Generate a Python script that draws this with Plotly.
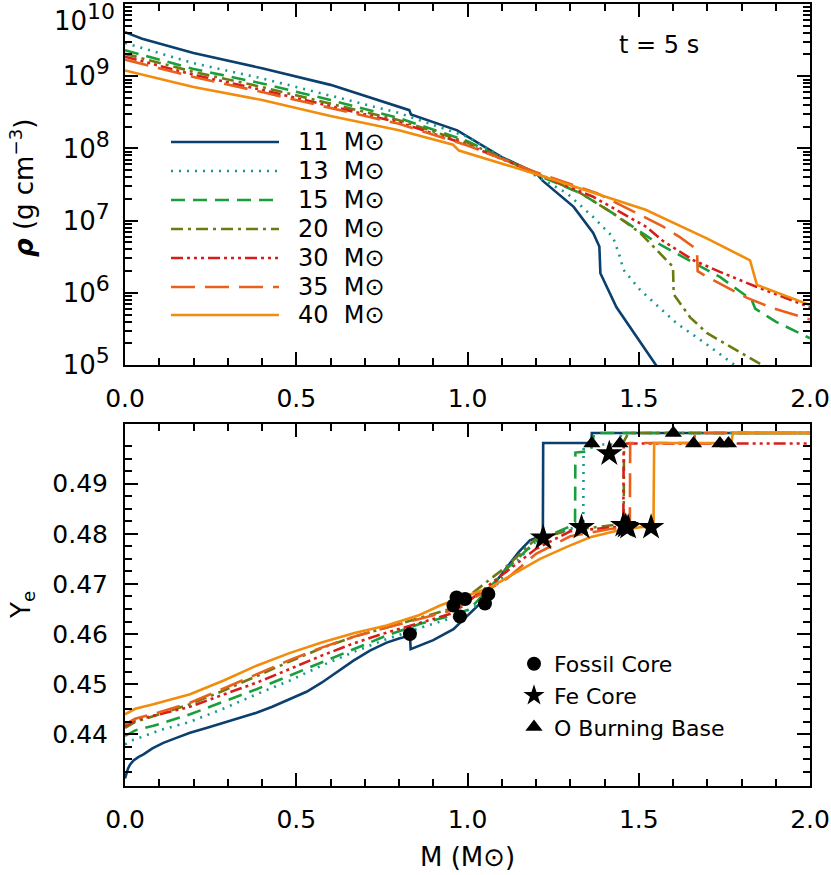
import plotly.graph_objects as go
from plotly.subplots import make_subplots

# ---- data ----
masses = ["11", "13", "15", "20", "30", "35", "40"]
colors = ["#0b3f6e", "#14998a", "#1a9e3c", "#6b7b12", "#d81e1a", "#e8601a", "#f28c0c"]
dashes = ["solid", "2px,6px", "14px,8px", "12px,5px,3px,5px",
          "12px,4px,3px,4px,3px,4px,3px,4px", "24px,10px", "solid"]

# density profiles, log10(rho) vs enclosed mass
m_rho_11 = [0, 0.05, 0.2, 0.4, 0.6, 0.8, 0.83, 0.835, 0.97, 1.1, 1.2, 1.22, 1.31, 1.367, 1.385, 1.388, 1.435, 1.55, 1.6]
lr_11 = [9.61, 9.52, 9.32, 9.11, 8.88, 8.57, 8.53, 8.47, 8.25, 7.88, 7.66, 7.55, 7.19, 6.83, 6.64, 6.27, 5.80, 5.0, 4.7]
m_rho_13 = [0, 0.2, 0.4, 0.6, 0.8, 1.0, 1.1, 1.2, 1.29, 1.367, 1.425, 1.445, 1.455, 1.504, 1.61, 1.7, 1.78, 1.85]
lr_13 = [9.46, 9.18, 8.97, 8.73, 8.49, 8.16, 7.88, 7.62, 7.38, 7.05, 6.77, 6.5, 6.32, 6.04, 5.58, 5.28, 5.0, 4.8]
m_rho_15 = [0, 0.2, 0.4, 0.6, 0.8, 1.0, 1.2, 1.33, 1.425, 1.52, 1.55, 1.6, 1.737, 1.83, 1.84, 1.9, 2.0]
lr_15 = [9.36, 9.1, 8.9, 8.67, 8.42, 8.1, 7.64, 7.38, 7.1, 6.8, 6.7, 6.57, 6.22, 5.9, 5.78, 5.6, 5.37]
m_rho_20 = [0, 0.2, 0.4, 0.6, 0.8, 1.0, 1.2, 1.33, 1.425, 1.504, 1.553, 1.59, 1.6, 1.602, 1.65, 1.7, 1.796, 1.86, 2.0]
lr_20 = [9.31, 9.06, 8.85, 8.62, 8.39, 8.08, 7.66, 7.38, 7.1, 6.83, 6.59, 6.41, 6.36, 5.98, 5.66, 5.44, 5.17, 5.0, 4.75]
m_rho_30 = [0, 0.2, 0.4, 0.6, 0.8, 1.0, 1.2, 1.367, 1.523, 1.57, 1.66, 1.737, 1.845, 2.0]
lr_30 = [9.27, 9.02, 8.81, 8.58, 8.36, 8.05, 7.66, 7.33, 6.91, 6.72, 6.45, 6.29, 6.08, 5.8]
m_rho_35 = [0, 0.2, 0.4, 0.6, 0.8, 1.0, 1.2, 1.378, 1.474, 1.57, 1.62, 1.67, 1.672, 1.7, 1.816, 1.89, 2.0]
lr_35 = [9.23, 8.99, 8.78, 8.56, 8.34, 8.04, 7.67, 7.38, 7.15, 6.92, 6.77, 6.6, 6.3, 6.22, 5.93, 5.79, 5.63]
m_rho_40 = [0, 0.2, 0.4, 0.6, 0.8, 0.958, 0.975, 1.19, 1.52, 1.7, 1.825, 1.845, 2.0]
lr_40 = [9.08, 8.85, 8.67, 8.45, 8.25, 8.05, 7.97, 7.66, 7.15, 6.75, 6.45, 6.11, 5.83]

# electron fraction profiles
m_ye_11 = [0, 0.004, 0.009, 0.015, 0.025, 0.04, 0.054, 0.08, 0.112, 0.15, 0.19, 0.24, 0.287, 0.335, 0.384, 0.43, 0.482, 0.53, 0.574, 0.62, 0.667, 0.715, 0.764, 0.8, 0.832, 0.834, 0.9, 0.959, 1.017, 1.046, 1.08, 1.114, 1.15, 1.182, 1.22, 1.221, 1.362, 1.363, 2.0]
ye_11 = [0.4312, 0.4323, 0.4332, 0.434, 0.4348, 0.4355, 0.436, 0.4372, 0.4383, 0.4393, 0.4403, 0.4413, 0.4423, 0.4433, 0.4443, 0.4455, 0.447, 0.4485, 0.4503, 0.4525, 0.4547, 0.4567, 0.4583, 0.4591, 0.4597, 0.457, 0.4588, 0.461, 0.4647, 0.4667, 0.4702, 0.4733, 0.4764, 0.4787, 0.4797, 0.4981, 0.4981, 0.5001, 0.5001]
m_ye_13 = [0, 0.02, 0.05, 0.1, 0.19, 0.29, 0.384, 0.48, 0.574, 0.67, 0.764, 0.86, 0.959, 1.05, 1.114, 1.2, 1.3, 1.338, 1.339, 1.44, 1.45, 2.0]
ye_13 = [0.438, 0.4388, 0.4395, 0.4408, 0.4425, 0.4452, 0.448, 0.4507, 0.4537, 0.4565, 0.459, 0.4612, 0.4633, 0.4665, 0.4725, 0.4785, 0.481, 0.4818, 0.4978, 0.4978, 0.5001, 0.5001]
m_ye_15 = [0, 0.03, 0.083, 0.19, 0.287, 0.384, 0.48, 0.574, 0.67, 0.764, 0.86, 0.959, 1.007, 1.114, 1.2, 1.3, 1.314, 1.315, 1.36, 1.37, 2.0]
ye_15 = [0.4397, 0.4408, 0.4417, 0.444, 0.4465, 0.449, 0.4517, 0.4543, 0.4571, 0.4597, 0.462, 0.4638, 0.465, 0.473, 0.4785, 0.4815, 0.4823, 0.4962, 0.4965, 0.5001, 0.5001]
m_ye_20 = [0, 0.03, 0.1, 0.19, 0.29, 0.384, 0.48, 0.574, 0.67, 0.764, 0.86, 0.959, 1.114, 1.2, 1.3, 1.445, 1.456, 1.457, 1.47, 2.0]
ye_20 = [0.4413, 0.4425, 0.4440, 0.446, 0.4488, 0.4517, 0.4545, 0.4572, 0.4595, 0.4613, 0.4632, 0.4652, 0.4735, 0.479, 0.4807, 0.482, 0.482, 0.4985, 0.5001, 0.5001]
m_ye_30 = [0, 0.03, 0.1, 0.19, 0.29, 0.384, 0.48, 0.574, 0.67, 0.764, 0.86, 0.959, 1.114, 1.2, 1.3, 1.426, 1.455, 1.456, 2.0]
ye_30 = [0.4417, 0.4428, 0.444, 0.4455, 0.448, 0.4503, 0.453, 0.4557, 0.4582, 0.4603, 0.4622, 0.4642, 0.4725, 0.477, 0.4805, 0.4813, 0.4815, 0.498, 0.498]
m_ye_35 = [0, 0.03, 0.1, 0.19, 0.29, 0.384, 0.48, 0.574, 0.67, 0.764, 0.86, 0.959, 1.114, 1.2, 1.3, 1.42, 1.474, 1.475, 1.66, 1.665, 2.0]
ye_35 = [0.442, 0.4431, 0.4444, 0.4463, 0.4492, 0.452, 0.4548, 0.4573, 0.4595, 0.4613, 0.463, 0.4648, 0.471, 0.476, 0.4795, 0.481, 0.4812, 0.4981, 0.4981, 0.5001, 0.5001]
m_ye_40 = [0, 0.03, 0.083, 0.19, 0.29, 0.384, 0.48, 0.574, 0.67, 0.764, 0.86, 0.92, 0.959, 1.066, 1.14, 1.212, 1.29, 1.358, 1.43, 1.504, 1.543, 1.545, 1.77, 1.775, 2.0]
ye_40 = [0.444, 0.4451, 0.446, 0.448, 0.4508, 0.4537, 0.4562, 0.4583, 0.4602, 0.4617, 0.4638, 0.4657, 0.4667, 0.4693, 0.4722, 0.475, 0.4774, 0.4793, 0.4805, 0.4813, 0.4815, 0.4981, 0.4981, 0.5001, 0.5001]

# special mass coordinates
fossil_m = [0.832, 0.959, 0.968, 0.993, 0.978, 1.061, 1.051]
fossil_ye = [0.4600, 0.4657, 0.4673, 0.4670, 0.4635, 0.4680, 0.4661]
fe_m = [1.221, 1.333, 1.414, 1.455, 1.462, 1.469, 1.536]
fe_ye = [0.4792, 0.4813, 0.4960, 0.4817, 0.4815, 0.4813, 0.4813]
ob_m = [1.363, 1.445, 1.601, 1.66, 1.737, 1.762]
ob_ye = [0.4980, 0.4980, 0.5001, 0.4980, 0.4980, 0.4980]

# axis ticks
rho_decades = [5, 6, 7, 8, 9, 10]
major_ye = [0.44, 0.45, 0.46, 0.47, 0.48, 0.49]

rho_m = [m_rho_11, m_rho_13, m_rho_15, m_rho_20, m_rho_30, m_rho_35, m_rho_40]
rho_lg = [lr_11, lr_13, lr_15, lr_20, lr_30, lr_35, lr_40]
ye_m = [m_ye_11, m_ye_13, m_ye_15, m_ye_20, m_ye_30, m_ye_35, m_ye_40]
ye_v = [ye_11, ye_13, ye_15, ye_20, ye_30, ye_35, ye_40]

W, H = 831, 875
L, R, T, B = 125, 21, 4, 89
FONT = "DejaVu Sans"

def px(x):
    return (x - L) / (W - L - R)

def py(y):
    return (H - B - y) / (H - T - B)

def decade(d):
    return f"10<sup><span style='font-size:22px'>{d}</span></sup>"

fig = make_subplots(rows=2, cols=1, vertical_spacing=0.0)

for i in range(len(masses)):
    fig.add_trace(go.Scatter(
        x=rho_m[i], y=[10 ** v for v in rho_lg[i]], mode="lines",
        line=dict(color=colors[i], width=2.6, dash=dashes[i]),
        showlegend=False), row=1, col=1)
    fig.add_trace(go.Scatter(
        x=ye_m[i], y=ye_v[i], mode="lines",
        line=dict(color=colors[i], width=2.6, dash=dashes[i]),
        showlegend=False), row=2, col=1)

fig.add_trace(go.Scatter(x=fossil_m, y=fossil_ye, mode="markers", name="Fossil Core",
                         marker=dict(symbol="circle", size=14, color="black")), row=2, col=1)
fig.add_trace(go.Scatter(x=fe_m, y=fe_ye, mode="markers", name="Fe Core",
                         marker=dict(symbol="star", size=20, color="black")), row=2, col=1)
fig.add_trace(go.Scatter(x=ob_m, y=ob_ye, mode="markers", name="O Burning Base",
                         marker=dict(symbol="triangle-up", size=15, color="black")), row=2, col=1)

axis_common = dict(showline=True, linecolor="black", linewidth=2, mirror="ticks",
                   ticks="inside", ticklen=13, tickwidth=2, tickcolor="black",
                   showgrid=False, zeroline=False, automargin=False,
                   tickfont=dict(family=FONT, size=25, color="black"))

fig.update_xaxes(range=[0, 2], dtick=0.5, tick0=0, tickformat=".1f",
                 minor=dict(ticks="inside", ticklen=7, dtick=0.1, tickwidth=2, tickcolor="black", showgrid=False),
                 ticklabelstandoff=10, ticklabeloverflow="allow", **axis_common)

rho_minor = [k * 10 ** d for d in rho_decades[:-1] for k in range(2, 10)]
fig.update_yaxes(type="log", range=[4.9999, 10.0001], tickmode="array",
                 tickvals=[10 ** d for d in rho_decades],
                 ticktext=[decade(d) if d < 10 else "" for d in rho_decades],
                 minor=dict(ticks="inside", ticklen=7, tickmode="array", tickvals=rho_minor,
                            tickwidth=2, tickcolor="black", showgrid=False),
                 ticklabelstandoff=8, row=1, col=1, **axis_common)
fig.update_yaxes(tickfont=dict(size=26), row=1, col=1)

minor_ye = [0.4325 + 0.0025 * k for k in range(27) if k % 4 != 3]
fig.update_yaxes(range=[0.4297, 0.5019], tickmode="array", tickvals=major_ye,
                 ticktext=[f"{v:.2f}" for v in major_ye],
                 minor=dict(ticks="inside", ticklen=7, tickmode="array", tickvals=minor_ye,
                            tickwidth=2, tickcolor="black", showgrid=False),
                 ticklabelstandoff=10, row=2, col=1, **axis_common)

fig.update_layout(
    yaxis=dict(domain=[py(365), 1.0]),
    yaxis2=dict(domain=[0.0, py(424)]),
)

# top decade label sits just inside the page, below its tick
fig.add_annotation(xref="paper", yref="paper", x=px(117), y=py(18),
                   text=decade(rho_decades[-1]), showarrow=False,
                   xanchor="right", yanchor="middle",
                   font=dict(family=FONT, size=26, color="black"))

# legend for the mass models (top panel)
rows = [142, 171, 200, 229, 258, 287, 315]
for i in range(len(masses)):
    fig.add_shape(type="line", xref="paper", yref="paper",
                  x0=px(171), x1=px(279), y0=py(rows[i]), y1=py(rows[i]),
                  line=dict(color=colors[i], width=2.6, dash=dashes[i]))
    fig.add_annotation(xref="paper", yref="paper", x=px(296), y=py(rows[i]),
                       text=f"{masses[i]}\u00a0\u00a0M\u2299", showarrow=False,
                       xanchor="left", yanchor="middle",
                       font=dict(family=FONT, size=24, color="black"))

fig.add_annotation(xref="paper", yref="paper", x=px(659), y=py(45), text="t\u00a0=\u00a05\u00a0s",
                   showarrow=False, xanchor="center", yanchor="middle",
                   font=dict(family=FONT, size=24, color="black"))
fig.add_annotation(xref="paper", yref="paper", x=px(22), y=py(188),
                   text="<b><i>\u03c1</i></b> (g cm<sup>\u22123</sup>)", textangle=-90,
                   showarrow=False, xanchor="center", yanchor="middle",
                   font=dict(family=FONT, size=26, color="black"))
fig.add_annotation(xref="paper", yref="paper", x=px(22), y=py(605),
                   text="Y<sub>e</sub>", textangle=-90,
                   showarrow=False, xanchor="center", yanchor="middle",
                   font=dict(family=FONT, size=26, color="black"))
fig.add_annotation(xref="paper", yref="paper", x=px(467), y=py(857),
                   text="M (M\u2299)", showarrow=False, xanchor="center", yanchor="middle",
                   font=dict(family=FONT, size=26, color="black"))

fig.update_layout(
    width=W, height=H,
    margin=dict(l=L, r=R, t=T, b=B),
    plot_bgcolor="white", paper_bgcolor="white",
    font=dict(family=FONT, color="black"),
    legend=dict(x=px(514), y=py(643), xanchor="left", yanchor="top",
                bgcolor="rgba(0,0,0,0)", font=dict(family=FONT, size=22, color="black"),
                itemwidth=30, tracegroupgap=0),
)

# the default page has an 8px body margin; drop it so the figure sits at the origin
fig.write_html("out.html", config={"displayModeBar": False},
               post_script="document.body.style.margin='0px';")
